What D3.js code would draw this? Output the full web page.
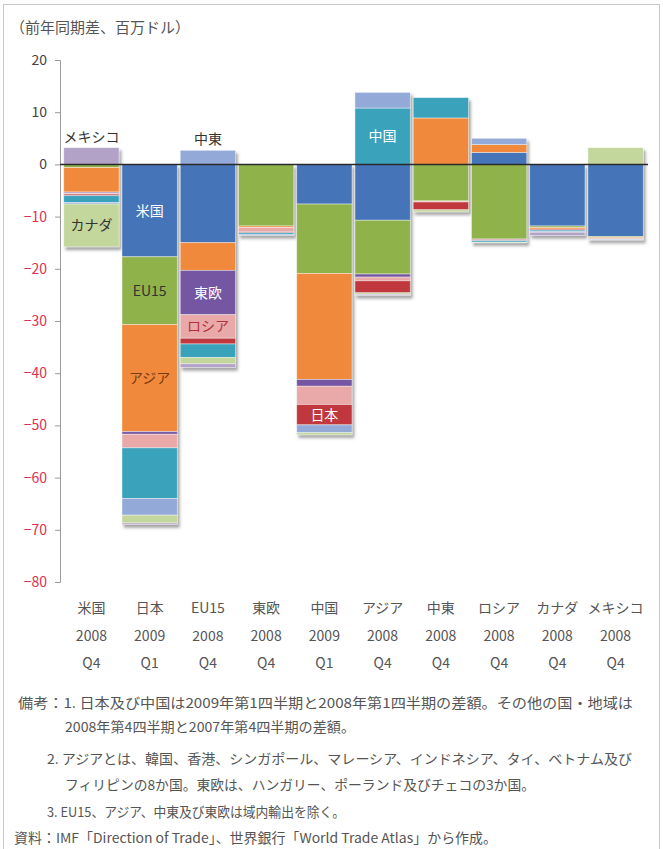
<!DOCTYPE html>
<html>
<head>
<meta charset="utf-8">
<script src="https://cdn.jsdelivr.net/npm/d3@7"></script>
<style>
  body { margin: 0; background: #fff; }
  svg text { font-family: "Noto Sans CJK JP", "Noto Sans", sans-serif; }
</style>
</head>
<body>
<svg id="chart" width="663" height="849"></svg>
<script>
// exporters (bars)
const categories = ['米国', '日本', 'EU15', '東欧', '中国', 'アジア', '中東', 'ロシア', 'カナダ', 'メキシコ'];
const years = ['2008', '2009', '2008', '2008', '2009', '2008', '2008', '2008', '2008', '2008'];
const quarters = ['Q4', 'Q1', 'Q4', 'Q4', 'Q1', 'Q4', 'Q4', 'Q4', 'Q4', 'Q4'];

// destinations (stack segments), values in 百万ドル...
const seriesNames = ['米国', 'EU15', 'アジア', '東欧', 'ロシア', '日本', '中国', '中東', 'カナダ', 'メキシコ'];
const toUS     = [0, -17.7, -15.0, 0, -7.6, -10.7, 0, 2.3, -11.8, -13.8];
const toEU15   = [-0.6, -13.0, 0, -11.8, -13.3, -10.3, -7.0, -14.3, -0.3, -0.2];
const toAsia   = [-4.7, -20.5, -5.3, -0.3, -20.3, 0, 8.9, 1.5, -0.3, -0.2];
const toEEur   = [-0.2, -0.5, -8.5, 0, -1.3, -0.6, 0, -0.1, 0, 0];
const toRussia = [-0.2, -2.6, -4.5, -0.8, -3.5, -0.7, -0.2, 0, 0, 0];
const toJapan  = [-0.3, 0, -1.1, -0.2, -3.9, -2.3, -1.5, -0.2, -0.2, -0.1];
const toChina  = [-1.3, -9.7, -2.6, -0.3, 0, 10.8, 3.9, -0.3, -0.3, -0.1];
const toMEast  = [-0.3, -3.2, 2.7, -0.2, -1.5, 3.0, 0, 1.2, -0.1, -0.1];
const toCanada = [-8.2, -1.5, -1.2, 0, -0.4, -0.3, -0.4, -0.1, 0, 3.2];
const toMexico = [3.2, -0.3, -0.7, 0, 0, -0.2, 0, 0, -0.6, 0];
const seriesValues = [toUS, toEU15, toAsia, toEEur, toRussia, toJapan, toChina, toMEast, toCanada, toMexico];
const seriesColors = ['#4474B8', '#8FB24B', '#F0893A', '#7556A3', '#E8A9A8', '#C0393D', '#3BA2BC', '#93A9D8', '#C3D69B', '#B3A2C7'];

const yTicks = [20, 10, 0, -10, -20, -30, -40, -50, -60, -70, -80];

// labels written on the bars: [bar, segment, text, colour, placement]
const segLabels = [
  ['米国', 'メキシコ', 'メキシコ', '#333', 'above'],
  ['米国', 'カナダ', 'カナダ', '#333', 'mid'],
  ['日本', '米国', '米国', '#fff', 'mid'],
  ['日本', 'EU15', 'EU15', '#333', 'mid'],
  ['日本', 'アジア', 'アジア', '#7a3a10', 'mid'],
  ['EU15', '中東', '中東', '#333', 'above'],
  ['EU15', '東欧', '東欧', '#fff', 'mid'],
  ['EU15', 'ロシア', 'ロシア', '#b0303c', 'mid'],
  ['アジア', '中国', '中国', '#fff', 'mid'],
  ['中国', '日本', '日本', '#fff', 'mid']
];

const notes = [
  '備考：1. 日本及び中国は2009年第1四半期と2008年第1四半期の差額。その他の国・地域は',
  '2008年第4四半期と2007年第4四半期の差額。',
  '2. アジアとは、韓国、香港、シンガポール、マレーシア、インドネシア、タイ、ベトナム及び',
  'フィリピンの8か国。東欧は、ハンガリー、ポーランド及びチェコの3か国。',
  '3. EU15、アジア、中東及び東欧は域内輸出を除く。',
  '資料：IMF「Direction of Trade」、世界銀行「World Trade Atlas」から作成。'
];

const svg = d3.select('#chart');
const W = 663, H = 849;

// frame
svg.append('rect')
  .attr('x', 3.5).attr('y', 4.5)
  .attr('width', W - 7).attr('height', H)
  .attr('fill', 'none')
  .attr('stroke', '#c8c8c8');

const defs = svg.append('defs');
const shadow = defs.append('filter').attr('id', 'shadow')
  .attr('x', '-10%').attr('y', '-10%').attr('width', '130%').attr('height', '130%');
shadow.append('feDropShadow')
  .attr('dx', 2).attr('dy', 3)
  .attr('stdDeviation', 1.5)
  .attr('flood-color', '#555')
  .attr('flood-opacity', 0.55);

svg.append('text')
  .attr('x', 10).attr('y', 33)
  .attr('font-size', 15)
  .attr('fill', '#555')
  .text('（前年同期差、百万ドル）');

const x = d3.scaleBand()
  .domain(categories)
  .range([62, 645])
  .paddingInner(0.05)
  .paddingOuter(0.03);

const y = d3.scaleLinear()
  .domain([-80, 20])
  .range([582, 60]);

// table for d3.stack
const table = categories.map((c, i) => {
  const row = { cat: c };
  seriesNames.forEach((s, j) => { row[s] = seriesValues[j][i]; });
  return row;
});

const stacked = d3.stack()
  .keys(seriesNames)
  .offset(d3.stackOffsetDiverging)(table);

// y axis
const yAxis = svg.append('g')
  .attr('transform', 'translate(60,0)')
  .call(d3.axisLeft(y).tickValues(yTicks).tickSize(5).tickPadding(8).tickFormat(d3.format('d')));
yAxis.select('.domain').attr('stroke', '#9a9a9a');
yAxis.selectAll('.tick line').attr('stroke', '#9a9a9a');
yAxis.selectAll('.tick text')
  .attr('font-size', 14)
  .attr('fill', d => d < 0 ? '#e0304f' : '#444');

// bars: one group per exporter, so the shadow falls under the whole column
const bars = svg.append('g').selectAll('g.bar')
  .data(categories)
  .join('g')
  .attr('class', 'bar')
  .attr('filter', 'url(#shadow)');

bars.selectAll('rect')
  .data((c, i) => stacked.map((s, j) => ({ cat: c, key: s.key, color: seriesColors[j], y0: s[i][0], y1: s[i][1] }))
    .filter(d => d.y0 !== d.y1))
  .join('rect')
  .attr('x', d => x(d.cat))
  .attr('width', x.bandwidth())
  .attr('y', d => y(Math.max(d.y0, d.y1)))
  .attr('height', d => Math.abs(y(d.y0) - y(d.y1)))
  .attr('fill', d => d.color)
  .attr('stroke', 'rgba(255,255,255,0.55)')
  .attr('stroke-width', 0.8);

// zero line on top
svg.append('line')
  .attr('x1', 60).attr('x2', 648)
  .attr('y1', y(0)).attr('y2', y(0))
  .attr('stroke', '#2a2a2a')
  .attr('stroke-width', 1.5);

// segment labels
svg.append('g').selectAll('text')
  .data(segLabels)
  .join('text')
  .attr('x', d => x(d[0]) + x.bandwidth() / 2)
  .attr('y', d => {
    const s = stacked[seriesNames.indexOf(d[1])][categories.indexOf(d[0])];
    if (d[4] === 'above') return y(Math.max(s[0], s[1])) - 6;
    return y((s[0] + s[1]) / 2) + 5;
  })
  .attr('text-anchor', 'middle')
  .attr('font-size', 14)
  .attr('fill', d => d[3])
  .text(d => d[2]);

// category labels
const xl = svg.append('g').selectAll('text')
  .data(categories)
  .join('text')
  .attr('text-anchor', 'middle')
  .attr('font-size', 14)
  .attr('fill', '#555');
xl.append('tspan').attr('x', d => x(d) + x.bandwidth() / 2).attr('y', 613).text(d => d);
xl.append('tspan').attr('x', d => x(d) + x.bandwidth() / 2).attr('y', 641).text((d, i) => years[i]);
xl.append('tspan').attr('x', d => x(d) + x.bandwidth() / 2).attr('y', 668).text((d, i) => quarters[i]);

// notes
const noteX = [18, 65, 47, 65, 47, 14];
const noteY = [708, 732, 764, 790, 817, 843];
const noteW = [615, 290, 585, 470, 298, 483];
svg.append('g').selectAll('text')
  .data(notes)
  .join('text')
  .attr('x', (d, i) => noteX[i])
  .attr('y', (d, i) => noteY[i])
  .attr('font-size', 13.5)
  .attr('fill', '#555')
  .attr('textLength', (d, i) => noteW[i])
  .attr('lengthAdjust', 'spacingAndGlyphs')
  .text(d => d);
</script>
</body>
</html>
